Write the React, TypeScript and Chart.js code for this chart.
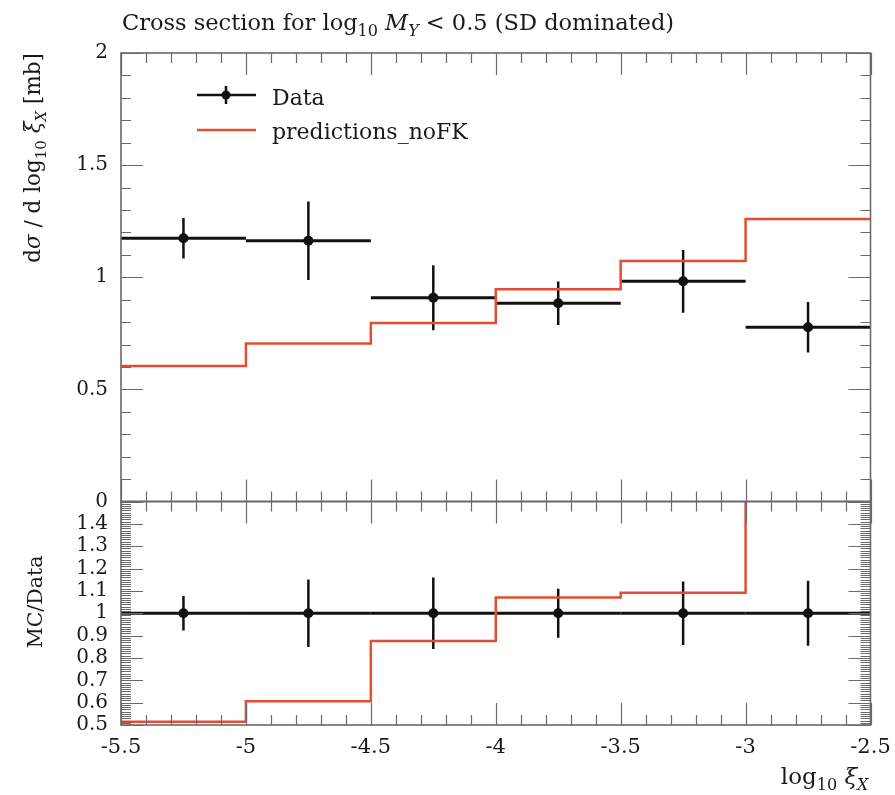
import React, { useEffect, useRef } from "react";
import { Chart, registerables } from "chart.js";
Chart.register(...registerables);

// ---------- data ----------
const binEdges = [-5.5, -5.0, -4.5, -4.0, -3.5, -3.0, -2.5];
const binCenters = [-5.25, -4.75, -4.25, -3.75, -3.25, -2.75];
const dataValues = [1.174, 1.163, 0.909, 0.884, 0.982, 0.777];
const dataErrors = [0.09, 0.175, 0.145, 0.097, 0.14, 0.113];
const mcValues = [0.604, 0.705, 0.796, 0.946, 1.072, 1.26];

const xTicks = [-5.5, -5, -4.5, -4, -3.5, -3, -2.5];
const xTickLabels = ["-5.5", "-5", "-4.5", "-4", "-3.5", "-3", "-2.5"];
const mainYTicks = [0, 0.5, 1, 1.5, 2];
const mainYTickLabels = ["0", "0.5", "1", "1.5", "2"];
const ratioYTicks = [0.5, 0.6, 0.7, 0.8, 0.9, 1, 1.1, 1.2, 1.3, 1.4];
const ratioYTickLabels = ["0.5", "0.6", "0.7", "0.8", "0.9", "1", "1.1", "1.2", "1.3", "1.4"];

// derived ratio series (MC / Data)
const mcRatio = mcValues.map((v, i) => v / dataValues[i]);
const dataRatio = dataValues.map(() => 1);
const dataRatioErrors = dataErrors.map((e, i) => e / dataValues[i]);

// ---------- style ----------
const W = 895;
const H = 795;
const FONT = "'DejaVu Serif', 'Liberation Serif', serif";
const RED = "#e44d33";
const BLACK = "#111111";
const AXIS = "#6a6a6a";

type Part = { t: string; it?: boolean; sub?: boolean };

function fontFor(p: Part, size: number) {
  const s = p.sub ? Math.round(size * 0.7) : size;
  return `${p.it ? "italic " : ""}${s}px ${FONT}`;
}
function richWidth(ctx: CanvasRenderingContext2D, parts: Part[], size: number) {
  let w = 0;
  for (const p of parts) {
    ctx.font = fontFor(p, size);
    w += ctx.measureText(p.t).width;
  }
  return w;
}
function drawRich(
  ctx: CanvasRenderingContext2D,
  parts: Part[],
  x: number,
  y: number,
  size: number,
  align: "left" | "right" | "center"
) {
  const w = richWidth(ctx, parts, size);
  let cx = align === "left" ? x : align === "right" ? x - w : x - w / 2;
  ctx.textAlign = "left";
  ctx.textBaseline = "alphabetic";
  for (const p of parts) {
    ctx.font = fontFor(p, size);
    ctx.fillText(p.t, cx, y + (p.sub ? size * 0.28 : 0));
    cx += ctx.measureText(p.t).width;
  }
}

const titleParts: Part[] = [
  { t: "Cross section for log" },
  { t: "10", sub: true },
  { t: " " },
  { t: "M", it: true },
  { t: "Y", it: true, sub: true },
  { t: " < 0.5 (SD dominated)" },
];
const yLabelParts: Part[] = [
  { t: "d" },
  { t: "σ", it: true },
  { t: " / d log" },
  { t: "10", sub: true },
  { t: " " },
  { t: "ξ", it: true },
  { t: "X", it: true, sub: true },
  { t: " [mb]" },
];
const ratioLabelParts: Part[] = [{ t: "MC/Data" }];
const xLabelParts: Part[] = [
  { t: "log" },
  { t: "10", sub: true },
  { t: " " },
  { t: "ξ", it: true },
  { t: "X", it: true, sub: true },
];

function isMultiple(v: number, step: number) {
  const r = v / step;
  return Math.abs(r - Math.round(r)) < 1e-6;
}

function drawTicks(chart: any, yMinor: number, yMajor: number) {
  const { ctx, chartArea: a, scales } = chart;
  const xs = scales.x;
  const ys = scales.y;
  const minorLen = 10;
  const majorLen = 22;
  ctx.save();
  ctx.strokeStyle = AXIS;
  ctx.lineWidth = 1.2;
  // x ticks (top & bottom)
  const nx = Math.round((xs.max - xs.min) / 0.1);
  for (let k = 0; k <= nx; k++) {
    const v = xs.min + k * 0.1;
    const px = Math.round(xs.getPixelForValue(v)) + 0.5;
    const len = isMultiple(v, 0.5) ? majorLen : minorLen;
    ctx.beginPath();
    ctx.moveTo(px, a.top);
    ctx.lineTo(px, a.top + len);
    ctx.moveTo(px, a.bottom);
    ctx.lineTo(px, a.bottom - len);
    ctx.stroke();
  }
  // y ticks (left & right)
  ctx.lineWidth = 1;
  const ny = Math.round((ys.max - ys.min) / yMinor);
  for (let k = 0; k <= ny; k++) {
    const v = ys.min + k * yMinor;
    const py = Math.round(ys.getPixelForValue(v)) + 0.5;
    const len = isMultiple(v, yMajor) ? majorLen : minorLen;
    ctx.beginPath();
    ctx.moveTo(a.left, py);
    ctx.lineTo(a.left + len, py);
    ctx.moveTo(a.right, py);
    ctx.lineTo(a.right - len, py);
    ctx.stroke();
  }
  // frame
  ctx.lineWidth = 1.6;
  ctx.strokeRect(a.left, a.top, a.right - a.left, a.bottom - a.top);
  ctx.restore();
}

function drawYTickLabels(chart: any, values: number[], labels: string[]) {
  const { ctx, chartArea: a, scales } = chart;
  ctx.save();
  ctx.fillStyle = "#1a1a1a";
  ctx.font = `20px ${FONT}`;
  ctx.textAlign = "right";
  ctx.textBaseline = "middle";
  values.forEach((v, i) => {
    ctx.fillText(labels[i], a.left - 13, scales.y.getPixelForValue(v));
  });
  ctx.restore();
}

function drawErrorBars(chart: any, centers: number[], values: number[], errors: number[]) {
  const { ctx, scales } = chart;
  const xs = scales.x;
  const ys = scales.y;
  ctx.save();
  const a = chart.chartArea;
  ctx.beginPath();
  ctx.rect(a.left, a.top, a.right - a.left, a.bottom - a.top);
  ctx.clip();
  ctx.strokeStyle = BLACK;
  ctx.lineCap = "butt";
  centers.forEach((c, i) => {
    const y = ys.getPixelForValue(values[i]);
    ctx.lineWidth = 3;
    ctx.beginPath();
    ctx.moveTo(xs.getPixelForValue(binEdges[i]), y);
    ctx.lineTo(xs.getPixelForValue(binEdges[i + 1]), y);
    ctx.stroke();
    ctx.lineWidth = 2.5;
    ctx.beginPath();
    ctx.moveTo(xs.getPixelForValue(c), ys.getPixelForValue(values[i] + errors[i]));
    ctx.lineTo(xs.getPixelForValue(c), ys.getPixelForValue(values[i] - errors[i]));
    ctx.stroke();
  });
  ctx.restore();
}

const mainPlugin = {
  id: "rivetMain",
  beforeDatasetsDraw(chart: any) {
    drawErrorBars(chart, binCenters, dataValues, dataErrors);
  },
  afterDraw(chart: any) {
    const { ctx } = chart;
    drawTicks(chart, 0.1, 0.5);
    drawYTickLabels(chart, mainYTicks, mainYTickLabels);
    ctx.save();
    ctx.fillStyle = "#1a1a1a";
    // title
    drawRich(ctx, titleParts, 122, 30, 22.5, "left");
    // y label (rotated)
    ctx.save();
    ctx.translate(40, 53);
    ctx.rotate(-Math.PI / 2);
    drawRich(ctx, yLabelParts, 0, 0, 21.5, "right");
    ctx.restore();
    // legend
    ctx.strokeStyle = BLACK;
    ctx.lineWidth = 2.5;
    ctx.beginPath();
    ctx.moveTo(197, 95);
    ctx.lineTo(256, 95);
    ctx.moveTo(226, 86);
    ctx.lineTo(226, 104);
    ctx.stroke();
    ctx.fillStyle = BLACK;
    ctx.beginPath();
    ctx.arc(226, 95, 4.5, 0, Math.PI * 2);
    ctx.fill();
    ctx.strokeStyle = RED;
    ctx.beginPath();
    ctx.moveTo(197, 130);
    ctx.lineTo(256, 130);
    ctx.stroke();
    ctx.fillStyle = "#1a1a1a";
    drawRich(ctx, [{ t: "Data" }], 272, 105, 22, "left");
    drawRich(ctx, [{ t: "predictions_noFK" }], 272, 139, 22, "left");
    ctx.restore();
  },
};

const ratioPlugin = {
  id: "rivetRatio",
  beforeDatasetsDraw(chart: any) {
    drawErrorBars(chart, binCenters, dataRatio, dataRatioErrors);
  },
  afterDraw(chart: any) {
    const { ctx, chartArea: a, scales } = chart;
    drawTicks(chart, 0.01, 0.1);
    drawYTickLabels(chart, ratioYTicks, ratioYTickLabels);
    ctx.save();
    ctx.fillStyle = "#1a1a1a";
    // x tick labels
    ctx.font = `21px ${FONT}`;
    ctx.textAlign = "center";
    ctx.textBaseline = "alphabetic";
    xTicks.forEach((v, i) => {
      ctx.fillText(xTickLabels[i], scales.x.getPixelForValue(v), a.bottom + 28);
    });
    // x label
    drawRich(ctx, xLabelParts, a.right - 2, 784, 23, "right");
    // ratio y label
    ctx.save();
    ctx.translate(42, 602);
    ctx.rotate(-Math.PI / 2);
    drawRich(ctx, ratioLabelParts, 0, 0, 20.5, "center");
    ctx.restore();
    ctx.restore();
  },
};

function stepPoints(values: number[]) {
  return binEdges.map((x, i) => ({ x, y: values[Math.min(i, values.length - 1)] }));
}

function baseOptions(padTop: number, padBottom: number, yMin: number, yMax: number) {
  return {
    responsive: false,
    animation: false as const,
    devicePixelRatio: 1,
    events: [] as any[],
    layout: { padding: { left: 121, right: 24.5, top: padTop, bottom: padBottom } },
    scales: {
      x: { type: "linear" as const, min: -5.5, max: -2.5, display: false },
      y: { type: "linear" as const, min: yMin, max: yMax, display: false },
    },
    plugins: { legend: { display: false }, tooltip: { enabled: false }, title: { display: false } },
  };
}

export default function App() {
  const mainRef = useRef<HTMLCanvasElement>(null);
  const ratioRef = useRef<HTMLCanvasElement>(null);

  useEffect(() => {
    const main = new Chart(mainRef.current as HTMLCanvasElement, {
      type: "scatter",
      data: {
        datasets: [
          {
            type: "line",
            label: "predictions_noFK",
            data: stepPoints(mcValues),
            stepped: "before",
            borderColor: RED,
            borderWidth: 2.5,
            pointRadius: 0,
            fill: false,
          } as any,
          {
            type: "scatter",
            label: "Data",
            data: binCenters.map((x, i) => ({ x, y: dataValues[i] })),
            pointRadius: 5,
            backgroundColor: BLACK,
            borderColor: BLACK,
            borderWidth: 0,
          } as any,
        ],
      },
      options: baseOptions(53, H - 501.5, 0, 2) as any,
      plugins: [mainPlugin],
    });
    const ratio = new Chart(ratioRef.current as HTMLCanvasElement, {
      type: "scatter",
      data: {
        datasets: [
          {
            type: "line",
            label: "predictions_noFK",
            data: stepPoints(mcRatio),
            stepped: "before",
            borderColor: RED,
            borderWidth: 2.5,
            pointRadius: 0,
            fill: false,
          } as any,
          {
            type: "scatter",
            label: "Data",
            data: binCenters.map((x, i) => ({ x, y: dataRatio[i] })),
            pointRadius: 5,
            backgroundColor: BLACK,
            borderColor: BLACK,
            borderWidth: 0,
          } as any,
        ],
      },
      options: baseOptions(501.5, H - 725, 0.5, 1.5) as any,
      plugins: [ratioPlugin],
    });
    return () => {
      main.destroy();
      ratio.destroy();
    };
  }, []);

  const cs: React.CSSProperties = { position: "absolute", left: 0, top: 0, width: W, height: H };
  return (
    <div style={{ position: "fixed", left: 0, top: 0, width: W, height: H, background: "#fff" }}>
      <canvas ref={mainRef} width={W} height={H} style={cs} />
      <canvas ref={ratioRef} width={W} height={H} style={cs} />
    </div>
  );
}
